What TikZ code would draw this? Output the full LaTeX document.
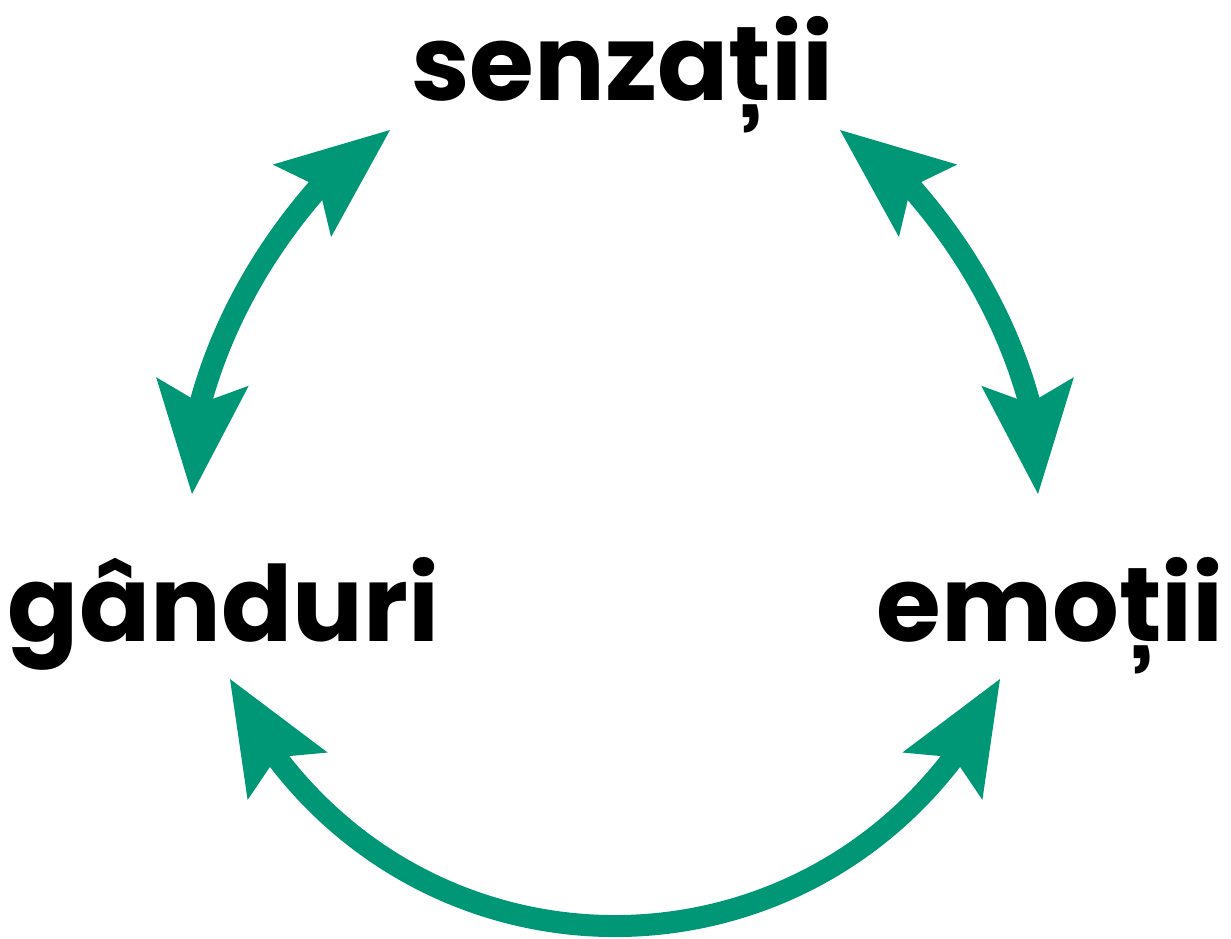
\documentclass[tikz,border=0pt]{standalone}
\usepackage{fontspec}
\usetikzlibrary{arrows.meta}
\newfontfamily\lblfont{Poppins}[UprightFont=* Bold]
\definecolor{cyclegreen}{RGB}{0,151,118}
\tikzset{
  word/.style={font=\lblfont\fontsize{52.5pt}{56pt}\selectfont, inner sep=0pt, anchor=base},
  % the tip ends 91 units beyond the point where the shaft stops
  cycletip/.tip={Stealth[length=56.5pt, width=46.5pt, inset=11pt, line width=0pt]},
  cycle/.style={draw=cyclegreen, line width=11pt, line join=round, cycletip-cycletip},
}
\begin{document}
\begin{tikzpicture}[x=0.5pt, y=-0.5pt]
\useasboundingbox (0,0) rectangle (1231,938);
% the three words
\node[word] (sen) at (622,100) {senzații};
\node[word] (gan) at (223.5,641) {gânduri};
\node[word] (emo) at (1050,641) {emoții};
% arrow tips beside each word, and where each shaft meets its tip
\coordinate (gan-up)   at (192,494);
\coordinate (gan-up-n) at (200.4,403.4);
\coordinate (sen-l)    at (390,130);
\coordinate (sen-l-n)  at (319.1,187);
\coordinate (sen-r)    at (840,130);
\coordinate (sen-r-n)  at (910.9,187);
\coordinate (emo-up)   at (1038,494);
\coordinate (emo-up-n) at (1029.6,403.4);
\coordinate (gan-dn)   at (230,679);
\coordinate (gan-dn-n) at (276.4,757.3);
\coordinate (emo-dn)   at (1000,679);
\coordinate (emo-dn-n) at (953.6,757.3);
% the three double arrows
\draw[cycle] (gan-up) -- (gan-up-n)
  .. controls (222,323.3) and (264.2,249.3) .. (sen-l-n) -- (sen-l);
\draw[cycle] (emo-up) -- (emo-up-n)
  .. controls (1008,323.3) and (965.8,249.3) .. (sen-r-n) -- (sen-r);
\draw[cycle] (gan-dn) -- (gan-dn-n)
  .. controls (447.4,982.3) and (782.6,982.3) .. (emo-dn-n) -- (emo-dn);
\end{tikzpicture}
\end{document}
